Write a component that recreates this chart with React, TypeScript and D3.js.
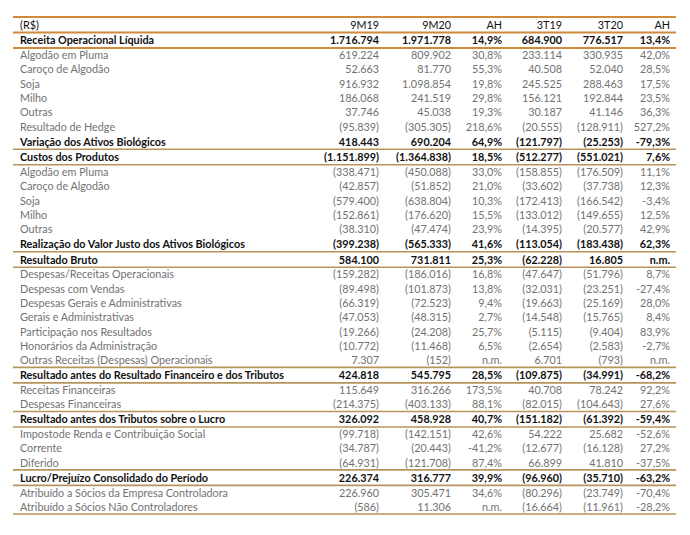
import React from "react";
import * as d3 from "d3";

const headers = ["(R$)", "9M19", "9M20", "AH", "3T19", "3T20", "AH"];

const labels = [
  "Receita Operacional Líquida",
  "Algodão em Pluma",
  "Caroço de Algodão",
  "Soja",
  "Milho",
  "Outras",
  "Resultado de Hedge",
  "Variação dos Ativos Biológicos",
  "Custos dos Produtos",
  "Algodão em Pluma",
  "Caroço de Algodão",
  "Soja",
  "Milho",
  "Outras",
  "Realização do Valor Justo dos Ativos Biológicos",
  "Resultado Bruto",
  "Despesas/Receitas Operacionais",
  "Despesas com Vendas",
  "Despesas Gerais e Administrativas",
  "Gerais e Administrativas",
  "Participação nos Resultados",
  "Honorários da Administração",
  "Outras Receitas (Despesas) Operacionais",
  "Resultado antes do Resultado Financeiro e dos Tributos",
  "Receitas Financeiras",
  "Despesas Financeiras",
  "Resultado antes dos Tributos sobre o Lucro",
  "Impostode Renda e Contribuição Social",
  "Corrente",
  "Diferido",
  "Lucro/Prejuízo Consolidado do Período",
  "Atribuído a Sócios da Empresa Controladora",
  "Atribuído a Sócios Não Controladores",
];

const boldRows = [0, 7, 8, 14, 15, 23, 26, 30];
// rows (data index) after which a rule is drawn; -1 = after header
const rulesAfter = [-1, 0, 7, 8, 14, 15, 22, 23, 25, 26, 29, 30, 32];

const v9M19 = [1716794, 619224, 52663, 916932, 186068, 37746, -95839, 418443, -1151899, -338471, -42857, -579400, -152861, -38310, -399238, 584100, -159282, -89498, -66319, -47053, -19266, -10772, 7307, 424818, 115649, -214375, 326092, -99718, -34787, -64931, 226374, 226960, -586];
const v9M20 = [1971778, 809902, 81770, 1098854, 241519, 45038, -305305, 690204, -1364838, -450088, -51852, -638804, -176620, -47474, -565333, 731811, -186016, -101873, -72523, -48315, -24208, -11468, -152, 545795, 316266, -403133, 458928, -142151, -20443, -121708, 316777, 305471, 11306];
const ah9M = [14.9, 30.8, 55.3, 19.8, 29.8, 19.3, 218.6, 64.9, 18.5, 33.0, 21.0, 10.3, 15.5, 23.9, 41.6, 25.3, 16.8, 13.8, 9.4, 2.7, 25.7, 6.5, null, 28.5, 173.5, 88.1, 40.7, 42.6, -41.2, 87.4, 39.9, 34.6, null];
const v3T19 = [684900, 233114, 40508, 245525, 156121, 30187, -20555, -121797, -512277, -158855, -33602, -172413, -133012, -14395, -113054, -62228, -47647, -32031, -19663, -14548, -5115, -2654, 6701, -109875, 40708, -82015, -151182, 54222, -12677, 66899, -96960, -80296, -16664];
const v3T20 = [776517, 330935, 52040, 288463, 192844, 41146, -128911, -25253, -551021, -176509, -37738, -166542, -149655, -20577, -183438, 16805, -51796, -23251, -25169, -15765, -9404, -2583, -793, -34991, 78242, -104643, -61392, 25682, -16128, 41810, -35710, -23749, -11961];
const ah3T = [13.4, 42.0, 28.5, 17.5, 23.5, 36.3, 527.2, -79.3, 7.6, 11.1, 12.3, -3.4, 12.5, 42.9, 62.3, null, 8.7, -27.4, 28.0, 8.4, 83.9, -2.7, null, -68.2, 92.2, 27.6, -59.4, -52.6, 27.2, -37.5, -63.2, -70.4, -28.2];

const W = 690;
const H = 535;
const left = 13;
const right = 676;
const top = 17;
const regH = 14.3;
const boldH = 15.5;

const locale = d3.formatLocale({ decimal: ",", thousands: ".", grouping: [3], currency: ["R$", ""], minus: "-" });
const fInt = locale.format(",d");
const fPct = locale.format(".1f");
const fmtVal = (v: number) => (v < 0 ? `(${fInt(-v)})` : fInt(v));
const fmtPct = (v: number | null) => (v === null ? "n.m." : `${fPct(v)}%`);

const columns = [v9M19, v9M20, ah9M, v3T19, v3T20, ah3T];
const isPct = [false, false, true, false, false, true];

const colX = d3.scaleOrdinal<number, number>().domain([0, 1, 2, 3, 4, 5]).range([379, 451, 502, 562, 623, 670]);

export default function App() {
  const heights = [boldH, ...labels.map((_, i) => (boldRows.includes(i) ? boldH : regH))];
  const ys: number[] = [];
  let acc = top;
  heights.forEach((h) => {
    ys.push(acc);
    acc += h;
  });
  ys.push(acc);
  const rowTop = (i: number) => ys[i + 1];
  const rowMid = (i: number) => ys[i + 1] + heights[i + 1] / 2;
  const font = "Lato, 'Open Sans', sans-serif";
  const fs = 10.8;
  const gray = "#727272";
  const dark = "#111";
  const ruleColor = (i: number) => (i <= 0 ? "#d08a3e" : "#b8935c");

  return (
    <svg width={W} height={H} style={{ position: "absolute", left: 0, top: 0, background: "#fff" }} fontFamily={font} fontSize={fs}>
      <rect x={0} y={0} width={W} height={H} fill="#fff" />
      <text x={20} y={ys[0] + heights[0] / 2 + 4} fill={dark}>{headers[0]}</text>
      {headers.slice(1).map((h, j) => (
        <text key={j} x={colX(j)} y={ys[0] + heights[0] / 2 + 4} textAnchor="end" fill={dark}>{h}</text>
      ))}
      {labels.map((lab, i) => {
        const b = boldRows.includes(i);
        const y = rowMid(i) + 4;
        return (
          <g key={i} fill={b ? dark : gray} fontWeight={b ? "bold" : "normal"}>
            <text x={20} y={y}>{lab}</text>
            {columns.map((col, j) => (
              <text key={j} x={colX(j)} y={y} textAnchor="end">
                {isPct[j] ? fmtPct(col[i] as number | null) : fmtVal(col[i] as number)}
              </text>
            ))}
          </g>
        );
      })}
      <line x1={left} x2={right} y1={top} y2={top} stroke="#d08a3e" strokeWidth={2} />
      {rulesAfter.map((r) => {
        const y = r === -1 ? ys[1] : rowTop(r) + heights[r + 1];
        return <line key={r} x1={left} x2={right} y1={y} y2={y} stroke={ruleColor(r)} strokeWidth={r <= 0 ? 2 : 1.6} />;
      })}
    </svg>
  );
}
